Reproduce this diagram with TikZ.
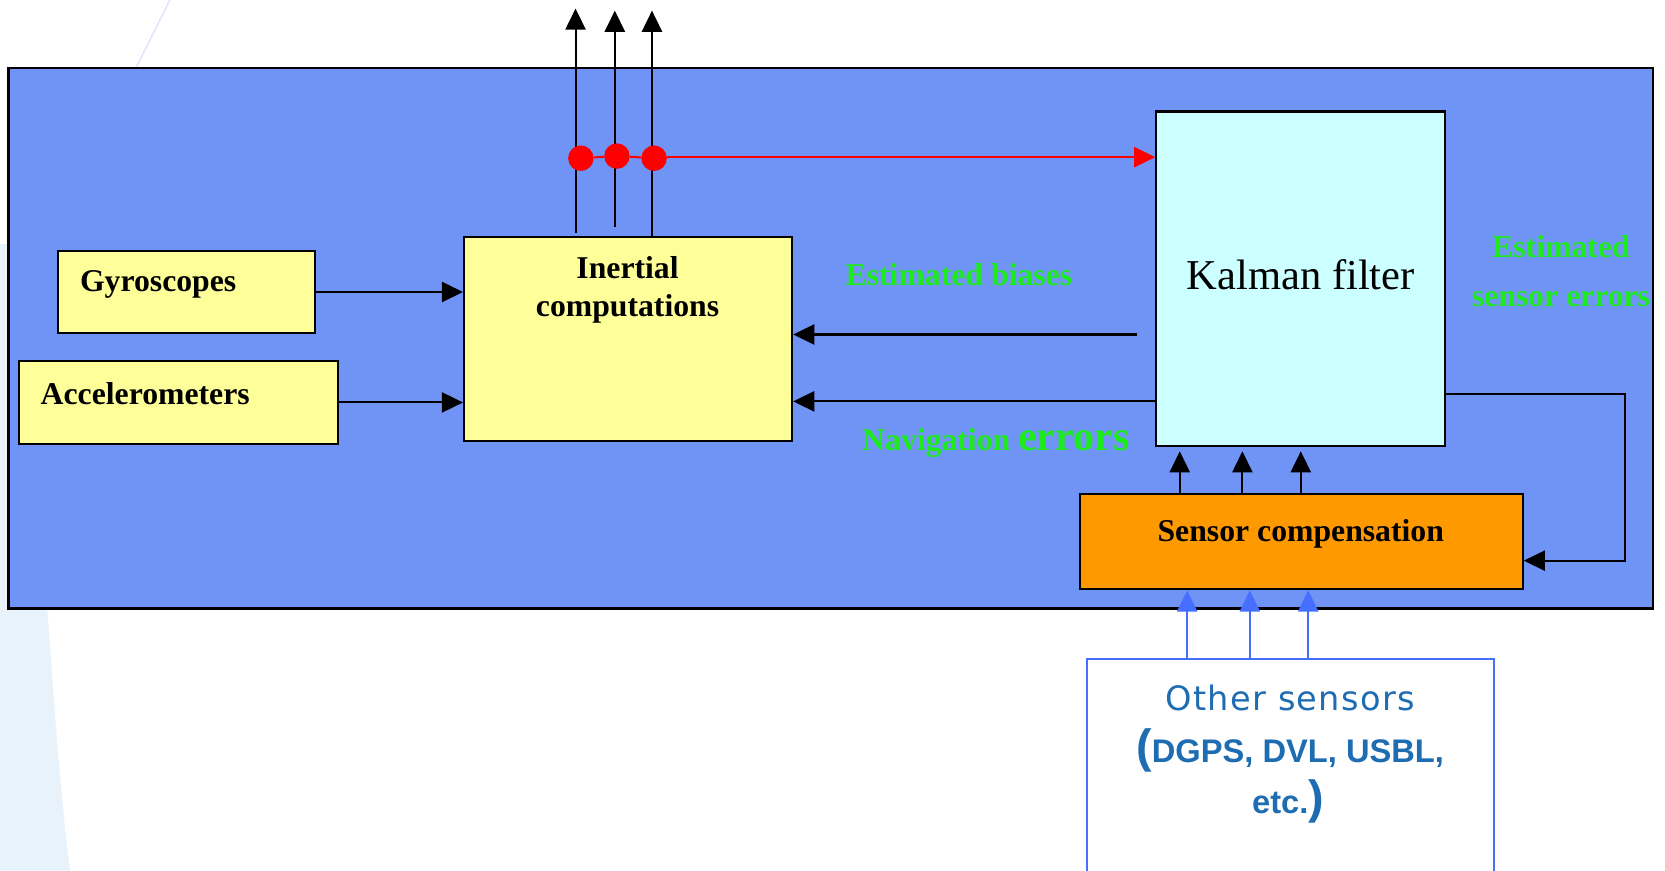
\documentclass[tikz,border=0pt]{standalone}
\usepackage{fontspec}
\setmainfont{Liberation Serif}
\newfontfamily\othersans[LetterSpace=4]{DejaVu Sans}
\newfontfamily\boldsans{Liberation Sans}
\usepackage{tikz}
\usetikzlibrary{arrows.meta, positioning}
\definecolor{FrameBlue}{RGB}{112,148,246}
\definecolor{BoxYellow}{RGB}{255,255,153}
\definecolor{BoxCyan}  {RGB}{204,255,255}
\definecolor{BoxOrange}{RGB}{255,153,0}
\definecolor{LblGreen} {RGB}{30,235,30}
\definecolor{SensBlue} {RGB}{70,110,255}
\definecolor{SensText} {RGB}{30,108,178}
\definecolor{DotRed}   {RGB}{255,0,0}
\definecolor{Pale}     {RGB}{232,242,250}

\begin{document}
\begin{tikzpicture}[x=0.2mm, y=-0.2mm,
  >={Triangle[length=4mm, width=3.8mm]},
  ylwbox/.style = {draw=black, line width=1.1pt, fill=BoxYellow, inner sep=0pt},
  blbl/.style  = {font=\fontsize{17}{20.5}\selectfont\bfseries, inner sep=0pt},
  glbl/.style  = {font=\fontsize{17}{20.5}\selectfont\bfseries, text=LblGreen,
                  inner sep=0pt},
  conn/.style  = {->, line width=1.1pt},
  sarr/.style  = {->, line width=1pt, draw=SensBlue, fill=SensBlue},
  rdot/.style  = {circle, fill=DotRed, minimum size=4.8mm, inner sep=0pt}
]
  \clip (0,0) rectangle (1568,820);
  \fill[white] (0,0) rectangle (1568,820);

  %% slide background swoosh
  \fill[Pale] (0,230) -- (22,230) .. controls (40,420) and (40,520) ..
    (45,580) .. controls (52,680) and (58,760) .. (66,820) -- (0,820) -- cycle;
  \draw[Pale!60!SensBlue!40, line width=0.8pt] (160,0) -- (128,64);

  %% outer frame
  \node[draw=black, line width=1.2pt, fill=FrameBlue,
        minimum width=309.8mm, minimum height=101.8mm, inner sep=0pt]
    (frame) at (782.5,318.5) {};

  %% inertial sensors
  \node[ylwbox, minimum width=48.4mm, minimum height=15.6mm]
    (gyro) at (176,275) {};
  \node[blbl, anchor=west] (gyrot) at (75,268) {Gyroscopes};

  \node[ylwbox, minimum width=60mm, minimum height=15.6mm]
    (accel) at (168,379) {};
  \node[blbl, anchor=west] (accelt) at (38,371) {Accelerometers};

  \node[ylwbox, minimum width=61.8mm, minimum height=38.4mm]
    (inert) at (591.5,319) {};
  \node[blbl, align=center] (inertt) at (591,273) {Inertial\\computations};

  %% Kalman filter
  \node[draw=black, line width=1.1pt, fill=BoxCyan, inner sep=0pt,
        minimum width=54.4mm, minimum height=63mm]
    (kalman) at (1225,262.5) {};
  \node[font=\fontsize{22.8}{26}\selectfont, inner sep=0pt]
    (kalmant) at (1225,259) {Kalman filter};

  %% sensor compensation
  \node[draw=black, line width=1.1pt, fill=BoxOrange, inner sep=0pt,
        minimum width=83.4mm, minimum height=18mm]
    (comp) at (1225.5,510) {};
  \node[blbl] (compt) at (1225,503) {Sensor compensation};

  %% other sensors
  \node[draw=SensBlue, line width=1pt, fill=white, inner sep=0pt,
        minimum width=76.6mm, minimum height=44mm]
    (other) at (1215.5,731) {};
  \node[font=\othersans\fontsize{18}{20}\selectfont, text=SensText, inner sep=0pt]
    (othert) at (1215,657) {Other sensors};
  \node[font=\boldsans\bfseries\fontsize{17.5}{20}\selectfont, text=SensText,
        inner sep=0pt]
    (othert2) at (1215,707)
    {{\fontsize{25}{25}\selectfont(}DGPS, DVL, USBL,};
  \node[font=\boldsans\bfseries\fontsize{17.5}{20}\selectfont, text=SensText,
        inner sep=0pt]
    (othert3) at (1213,755) {etc.{\fontsize{25}{25}\selectfont)}};

  %% green labels
  \node[glbl] (biasl) at (903,259) {Estimated biases};
  \node[glbl, anchor=base] (navl) at (938,424)
    {Navigation {\fontsize{22.6}{24}\selectfont errors}};
  \node[glbl] (senl1) at (1470,232) {Estimated};
  \node[glbl] (senl2) at (1470,282) {sensor errors};

  %% sensors -> inertial computations
  \draw[conn] (gyro.east) -- (inert.west |- gyro.east);
  \draw[conn] (accel.east) -- (inert.west |- accel.east);

  %% Kalman filter -> inertial computations
  \coordinate (bstart) at (1071,315);
  \coordinate (nrow) at (1089,378);
  \draw[conn] (bstart) -- (inert.east |- bstart);
  \draw[conn] (kalman.west |- nrow) -- (inert.east |- nrow);

  %% Kalman filter -> sensor compensation
  \coordinate (fb1) at (1530,371);
  \coordinate (fb2) at (1530,528);
  \draw[conn] (kalman.east |- fb1) -- (fb1) -- (fb2) -- (comp.east |- fb2);

  %% sensor compensation -> Kalman filter
  \foreach \x in {1111,1170,1225} {
    \coordinate (kx) at (\x,0);
    \draw[conn, shorten >=0.8mm] (comp.north -| kx) -- (kalman.south -| kx);
  }

  %% other sensors -> sensor compensation
  \foreach \x in {1118,1177,1232} {
    \coordinate (sx) at (\x,0);
    \draw[sarr] (other.north -| sx) -- (comp.south -| sx);
  }

  %% outputs
  \coordinate (out1) at (542,8);
  \coordinate (out2) at (579,10);
  \coordinate (out3) at (614,10);
  \draw[conn, shorten <=0.6mm] (inert.north -| out1) -- (out1);
  \draw[conn, shorten <=1.6mm] (inert.north -| out2) -- (out2);
  \draw[conn] (inert.north -| out3) -- (out3);

  %% outputs tapped to the Kalman filter
  \node[rdot] (d1) at (547,149) {};
  \node[rdot] (d2) at (581,147) {};
  \node[rdot] (d3) at (616,149) {};
  \coordinate (rrow) at (0,148);
  \draw[DotRed, line width=1.1pt] (d1) -- (d2) -- (d3);
  \draw[conn, DotRed, fill=DotRed] (d3.east |- rrow) -- (kalman.west |- rrow);
\end{tikzpicture}
\end{document}
